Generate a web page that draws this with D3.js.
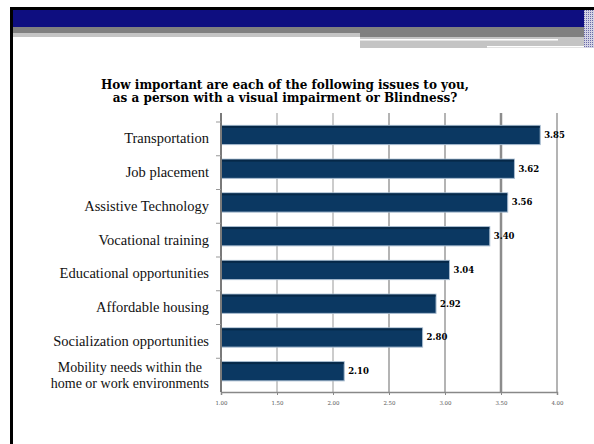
<!DOCTYPE html>
<html>
<head>
<meta charset="utf-8">
<script src="https://cdn.jsdelivr.net/npm/d3@7"></script>
<style>
  body { margin: 0; background: #fff; }
  svg { display: block; }
  text { font-family: "DejaVu Serif", Georgia, serif; }
  text.cat { font-family: "Liberation Serif", "Times New Roman", serif; }
</style>
</head>
<body>
<svg id="chart" width="594" height="444"></svg>
<script>
const categories = [
  "Transportation",
  "Job placement",
  "Assistive Technology",
  "Vocational training",
  "Educational opportunities",
  "Affordable housing",
  "Socialization opportunities",
  "Mobility needs within the|home or work environments"
];
const values = [3.85, 3.62, 3.56, 3.40, 3.04, 2.92, 2.80, 2.10];
const xTicks = [1.00, 1.50, 2.00, 2.50, 3.00, 3.50, 4.00];
const titleLines = [
  "How important are each of the following issues to you,",
  "as a person with a visual impairment or Blindness?"
];

const data = categories.map((c, i) => ({ label: c, value: values[i] }));

const svg = d3.select("#chart");

// slide decoration
svg.append("rect").attr("x", 10).attr("y", 7).attr("width", 584).attr("height", 3).attr("fill", "#000");
svg.append("rect").attr("x", 10).attr("y", 7).attr("width", 3).attr("height", 437).attr("fill", "#000");
svg.append("rect").attr("x", 13).attr("y", 10).attr("width", 571).attr("height", 17).attr("fill", "#0e0e80");
svg.append("rect").attr("x", 13).attr("y", 27).attr("width", 571).attr("height", 6).attr("fill", "#808080");
svg.append("rect").attr("x", 13).attr("y", 33).attr("width", 347).attr("height", 4).attr("fill", "#c4c4c4");
svg.append("rect").attr("x", 360).attr("y", 33).attr("width", 224).attr("height", 4).attr("fill", "#808080");
svg.append("rect").attr("x", 360).attr("y", 37).attr("width", 224).attr("height", 11).attr("fill", "#c4c4c4");
svg.append("rect").attr("x", 360).attr("y", 39).attr("width", 198).attr("height", 1.5).attr("fill", "#fff");
svg.append("rect").attr("x", 487).attr("y", 46).attr("width", 97).attr("height", 1.5).attr("fill", "#fff");

const defs = svg.append("defs");
const pat = defs.append("pattern").attr("id", "dots")
  .attr("width", 2).attr("height", 2).attr("patternUnits", "userSpaceOnUse");
pat.append("rect").attr("width", 2).attr("height", 2).attr("fill", "#d4d4e4");
pat.append("rect").attr("width", 1).attr("height", 1).attr("fill", "#6a6aa8");
svg.append("rect").attr("x", 584).attr("y", 10).attr("width", 10).attr("height", 38).attr("fill", "url(#dots)");

// title
svg.append("g").selectAll("text")
  .data(titleLines)
  .join("text")
  .attr("x", 285)
  .attr("y", (d, i) => 89 + i * 13)
  .attr("text-anchor", "middle")
  .attr("font-size", "12px")
  .attr("font-weight", "bold")
  .attr("fill", "#000")
  .text(d => d);

// scales
const x = d3.scaleLinear().domain([1, 4]).range([221, 557]);
const y = d3.scaleBand().domain(categories).range([122, 392]);

// gridlines
const gridColor = v => v === 3.5 ? "#8c8c8c" : (v >= 2.5 ? "#b4b4b4" : "#cccccc");
svg.append("g").selectAll("line")
  .data(xTicks.slice(1))
  .join("line")
  .attr("x1", d => x(d)).attr("x2", d => x(d))
  .attr("y1", 113).attr("y2", 392)
  .attr("stroke", d => gridColor(d))
  .attr("stroke-width", d => d === 3.5 ? 2.5 : 2);

// x axis
const xAxis = svg.append("g")
  .attr("transform", "translate(0,392)")
  .call(d3.axisBottom(x).tickValues(xTicks).tickFormat(d3.format(".2f")).tickSize(3).tickPadding(6));
xAxis.select(".domain").attr("stroke", "#888").attr("stroke-width", 1.5);
xAxis.selectAll(".tick line").attr("stroke", "#888");
xAxis.selectAll(".tick text")
  .attr("font-size", "5.5px")
  .attr("fill", "#555");

// bars
const barTop = y.bandwidth() * 0.1;
const barH = y.bandwidth() * 0.57;
const bars = svg.append("g");
bars.selectAll("rect.bar")
  .data(data)
  .join("rect")
  .attr("class", "bar")
  .attr("x", x(1))
  .attr("y", d => y(d.label) + barTop)
  .attr("width", d => x(d.value) - x(1))
  .attr("height", barH)
  .attr("fill", "#0b3862")
  .attr("stroke", "#a8bcd0")
  .attr("stroke-width", 1);
bars.selectAll("rect.top")
  .data(data)
  .join("rect")
  .attr("class", "top")
  .attr("x", x(1) + 0.5)
  .attr("y", d => y(d.label) + barTop + 0.5)
  .attr("width", d => x(d.value) - x(1) - 1)
  .attr("height", 2)
  .attr("fill", "#062848");

// value labels
svg.append("g").selectAll("text")
  .data(data)
  .join("text")
  .attr("x", d => x(d.value) + 4)
  .attr("y", d => y(d.label) + barTop + barH / 2 + 3)
  .attr("font-size", "8.5px")
  .attr("font-weight", "bold")
  .attr("fill", "#000")
  .text(d => d3.format(".2f")(d.value));

// y axis line and ticks
svg.append("line")
  .attr("x1", x(1)).attr("x2", x(1))
  .attr("y1", 113).attr("y2", 392)
  .attr("stroke", "#7a7a7a").attr("stroke-width", 2);
svg.append("g").selectAll("line")
  .data(categories)
  .join("line")
  .attr("x1", x(1) - 5).attr("x2", x(1))
  .attr("y1", d => y(d)).attr("y2", d => y(d))
  .attr("stroke", "#999").attr("stroke-width", 1);

// category labels (class "cat" gives the narrower serif)
const labelSize = "14.5px";
const multiSize = "14px";
const labelG = svg.append("g");
data.forEach(d => {
  const lines = d.label.split("|");
  const cy = y(d.label) + barTop + barH / 2;
  if (lines.length === 1) {
    labelG.append("text")
      .attr("class", "cat")
      .attr("font-size", labelSize)
      .attr("fill", "#111")
      .attr("x", 209).attr("y", cy + 8.5)
      .attr("text-anchor", "end")
      .text(lines[0]);
  } else {
    // measure widest line, then centre each line under it
    const probe = labelG.append("text").attr("class", "cat").attr("font-size", multiSize);
    const w = d3.max(lines, s => { probe.text(s); return probe.node().getComputedTextLength(); });
    probe.remove();
    const cx = 209 - w / 2;
    lines.forEach((s, i) => {
      labelG.append("text")
        .attr("class", "cat")
        .attr("font-size", multiSize)
        .attr("fill", "#111")
        .attr("x", cx)
        .attr("y", cy + 1 + i * 16)
        .attr("text-anchor", "middle")
        .text(s);
    });
  }
});
</script>
</body>
</html>
